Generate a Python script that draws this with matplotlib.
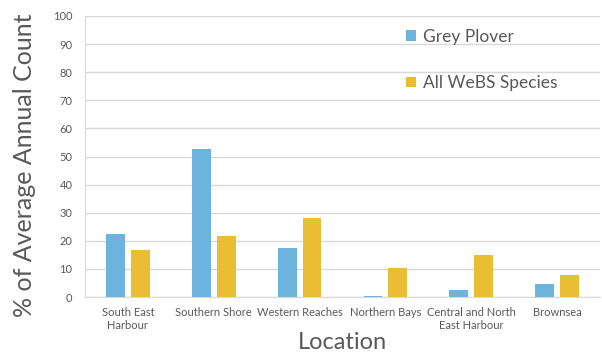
import numpy as np
import matplotlib.pyplot as plt

locations = ['South East\nHarbour', 'Southern Shore', 'Western Reaches',
             'Northern Bays', 'Central and North\nEast Harbour', 'Brownsea']
grey_plover = [22.3, 52.6, 17.4, 0.3, 2.6, 4.6]
all_webs = [16.6, 21.8, 28.0, 10.2, 15.0, 7.8]

plt.rcParams['font.family'] = ['Lato', 'DejaVu Sans']
txt = '#595959'

fig = plt.figure(figsize=(6.02, 3.56), dpi=100)
ax = fig.add_axes([85 / 602, 1 - 297 / 356, 515 / 602, 281 / 356])

x = np.arange(len(locations))
w = 0.22
ax.bar(x - w / 2 - 0.035, grey_plover, w, color='#6CB3DE', label='Grey Plover', zorder=3)
ax.bar(x + w / 2 + 0.035, all_webs, w, color='#EBBD35', label='All WeBS Species', zorder=3)

ax.set_xlim(-0.5, len(locations) - 0.5)
ax.set_ylim(0, 100)
ax.set_yticks(range(0, 101, 10))
ax.yaxis.grid(True, color='#D9D9D9', linewidth=1, zorder=0)
ax.set_xticks(x)
ax.set_xticklabels(locations, fontsize=8, color=txt, linespacing=1.2)
ax.tick_params(axis='y', labelsize=8, colors=txt, length=0, pad=9)
ax.tick_params(axis='x', length=0, pad=7)

for s in ['top', 'right']:
    ax.spines[s].set_visible(False)
ax.spines['left'].set_color('#D9D9D9')
ax.spines['bottom'].set_color('#D9D9D9')

ax.set_ylabel('% of Average Annual Count', fontsize=18, color=txt)
ax.yaxis.set_label_coords(-49 / 515, 0.5 - 9 / 281)
ax.set_xlabel('Location', fontsize=17, color=txt)
ax.xaxis.set_label_coords(0.5, -35 / 281)

leg = ax.legend(loc='upper left', bbox_to_anchor=(0.593, 1.01), frameon=False,
                fontsize=12.5, labelspacing=1.75, handlelength=0.55, handleheight=0.55,
                handletextpad=0.45, labelcolor=txt)

fig.savefig('out.png', dpi=100)
